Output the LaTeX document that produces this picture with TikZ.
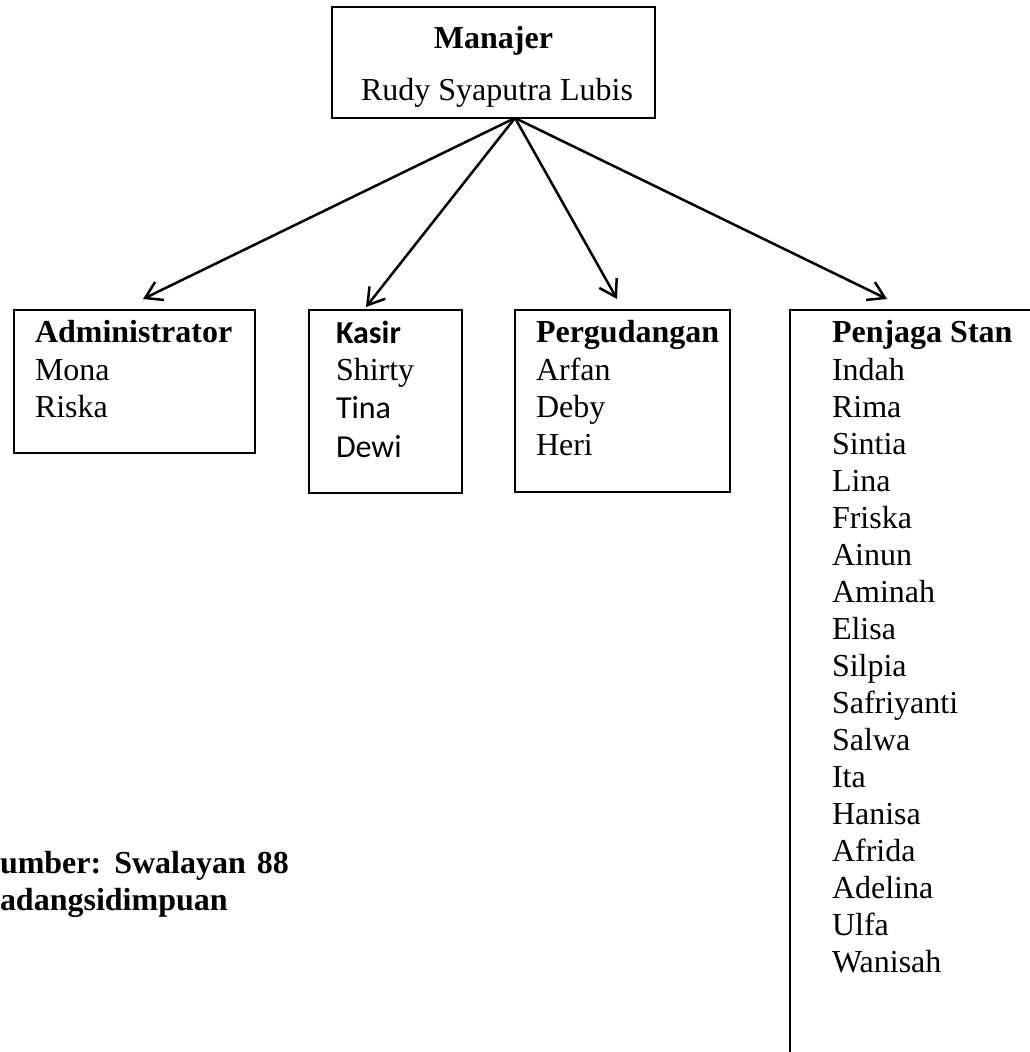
\documentclass[tikz,border=0pt]{standalone}
\usepackage{fontspec}
\setmainfont{Liberation Serif}
\newfontfamily\calibri{Carlito}
\usetikzlibrary{arrows.meta,calc}
\begin{document}
\begin{tikzpicture}[x=1pt,y=-1pt,
  box/.style={draw, line width=2.5pt, inner sep=0pt, outer sep=0pt},
  txt/.style={inner sep=0pt, outer sep=0pt, anchor=base west, font=\fontsize{32}{37}\selectfont},
  ctxt/.style={txt, anchor=base},
  ctx/.style={txt, font=\fontsize{32}{37}\selectfont\calibri},
  arr/.style={line width=2.5pt, -{Straight Barb[length=16pt,width=20pt]}}]
\useasboundingbox (0,0) rectangle (1030,1052);
% boxes
\node[box, minimum width=323pt, minimum height=111pt] (mgr) at (493.5,62.5) {};
\node[box, minimum width=241pt, minimum height=143pt] (adm) at (134.5,381.5) {};
\node[box, minimum width=153pt, minimum height=183pt] (kas) at (385.5,401.5) {};
\node[box, minimum width=215pt, minimum height=182pt] (per) at (622.5,401) {};
\node[box, minimum width=250pt, minimum height=760pt] (pen) at (915,690) {};
% manager text
\node[ctxt, font=\fontsize{32}{37}\selectfont\bfseries] (t0) at (493.5,48) {Manajer};
\node[ctxt] (t1) at (497,100) {Rudy Syaputra Lubis};
% administrator
\node[txt, font=\fontsize{32}{37}\selectfont\bfseries] (a0) at (35,342) {Administrator};
\node[txt] (a1) at (35,380) {Mona};
\node[txt] (a2) at (35,417) {Riska};
% kasir
\node[ctx, font=\fontsize{32}{37}\selectfont\calibri\bfseries] (k0) at (336,343) {Kasir};
\node[txt] (k1) at (336,380) {Shirty};
\node[ctx] (k2) at (336,418) {Tina};
\node[ctx] (k3) at (336,457) {Dewi};
% pergudangan
\node[txt, font=\fontsize{32}{37}\selectfont\bfseries] (p0) at (536,342) {Pergudangan};
\node[txt] (p1) at (536,380) {Arfan};
\node[txt] (p2) at (536,417) {Deby};
\node[txt] (p3) at (536,455) {Heri};
% penjaga stan
\node[txt, font=\fontsize{32}{37}\selectfont\bfseries] (s0) at (832,342) {Penjaga Stan};
\foreach \n [count=\i from 0] in {Indah,Rima,Sintia,Lina,Friska,Ainun,Aminah,Elisa,Silpia,Safriyanti,Salwa,Ita,Hanisa,Afrida,Adelina,Ulfa,Wanisah}{
  \node[txt] (s\i n) at (832,380+37*\i) {\n};
}
% source
\node[txt, font=\fontsize{32}{37}\selectfont\bfseries] (src1) at (0,873) {umber:\hspace{13pt}Swalayan\hspace{11pt}88};
\node[txt, font=\fontsize{32}{37}\selectfont\bfseries] (src2) at (0,910) {adangsidimpuan};
% connectors
\coordinate (o) at ($(mgr.south)+(21.5,0)$);
\draw[arr] (o) -- ($(adm.north)+(8.5,-11)$);
\draw[arr] (o) -- ($(kas.north)+(-19.5,-3)$);
\draw[arr] (o) -- ($(per.north)+(-5.5,-11)$);
\draw[arr] (o) -- ($(pen.north)+(-28,-11)$);
\end{tikzpicture}
\end{document}
